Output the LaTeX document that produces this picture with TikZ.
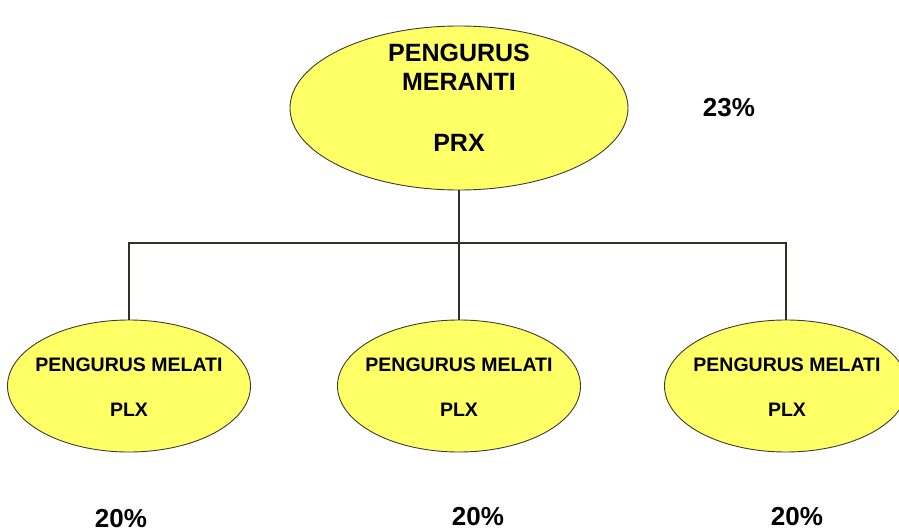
\documentclass[tikz,border=0pt]{standalone}
\usepackage{fontspec}
\setmainfont{Liberation Sans}
\usetikzlibrary{shapes.geometric}
\definecolor{orgfill}{RGB}{255,255,102}
\definecolor{orgline}{RGB}{60,60,50}
\tikzset{
  x=1pt, y=1pt,
  unit/.style={ellipse, draw=orgline, line width=0.9pt, fill=orgfill, inner sep=0pt},
  headunit/.style={unit, minimum width=338pt, minimum height=164pt},
  subunit/.style={unit, minimum width=243pt, minimum height=132pt},
  headtext/.style={font=\bfseries\fontsize{25}{25}\selectfont, inner sep=0pt},
  subtext/.style={font=\bfseries\fontsize{19.5}{19.5}\selectfont, inner sep=0pt},
  pct/.style={font=\bfseries\fontsize{26}{26}\selectfont, inner sep=0pt},
  link/.style={draw=orgline!80!black, line width=1.3pt}
}
\begin{document}
\begin{tikzpicture}
\useasboundingbox (0,0) rectangle (899,-532);
\begin{scope}
\clip (0,0) rectangle (899,-532);
% head office and its branches
\node[headunit] (top) at (459,-108) {};
\node[subunit] (left) at (129,-386) {};
\node[subunit] (mid) at (459,-386) {};
\node[subunit] (right) at (786,-386) {};

% connectors through a common bus
\coordinate (bus) at (459,-243);
\draw[link] (top.south) -- (bus);
\draw[link] (bus) -| (left.north);
\draw[link] (bus) -| (right.north);
\draw[link] (bus) -- (mid.north);

% labels
\node[headtext] (t1) at (459,-53) {PENGURUS};
\node[headtext] (t2) at (459,-82) {MERANTI};
\node[headtext] (t3) at (459,-143) {PRX};

\node[subtext] (l1) at (129,-365) {PENGURUS MELATI};
\node[subtext] (l2) at (129,-410) {PLX};
\node[subtext] (m1) at (459,-365) {PENGURUS MELATI};
\node[subtext] (m2) at (459,-410) {PLX};
\node[subtext] (r1) at (787,-365) {PENGURUS MELATI};
\node[subtext] (r2) at (787,-410) {PLX};

\node[pct] (ptop) at (729,-108) {23\%};
\node[pct] (pl) at (121,-519) {20\%};
\node[pct] (pm) at (478,-517) {20\%};
\node[pct] (pr) at (797,-517) {20\%};
\end{scope}
\end{tikzpicture}
\end{document}
